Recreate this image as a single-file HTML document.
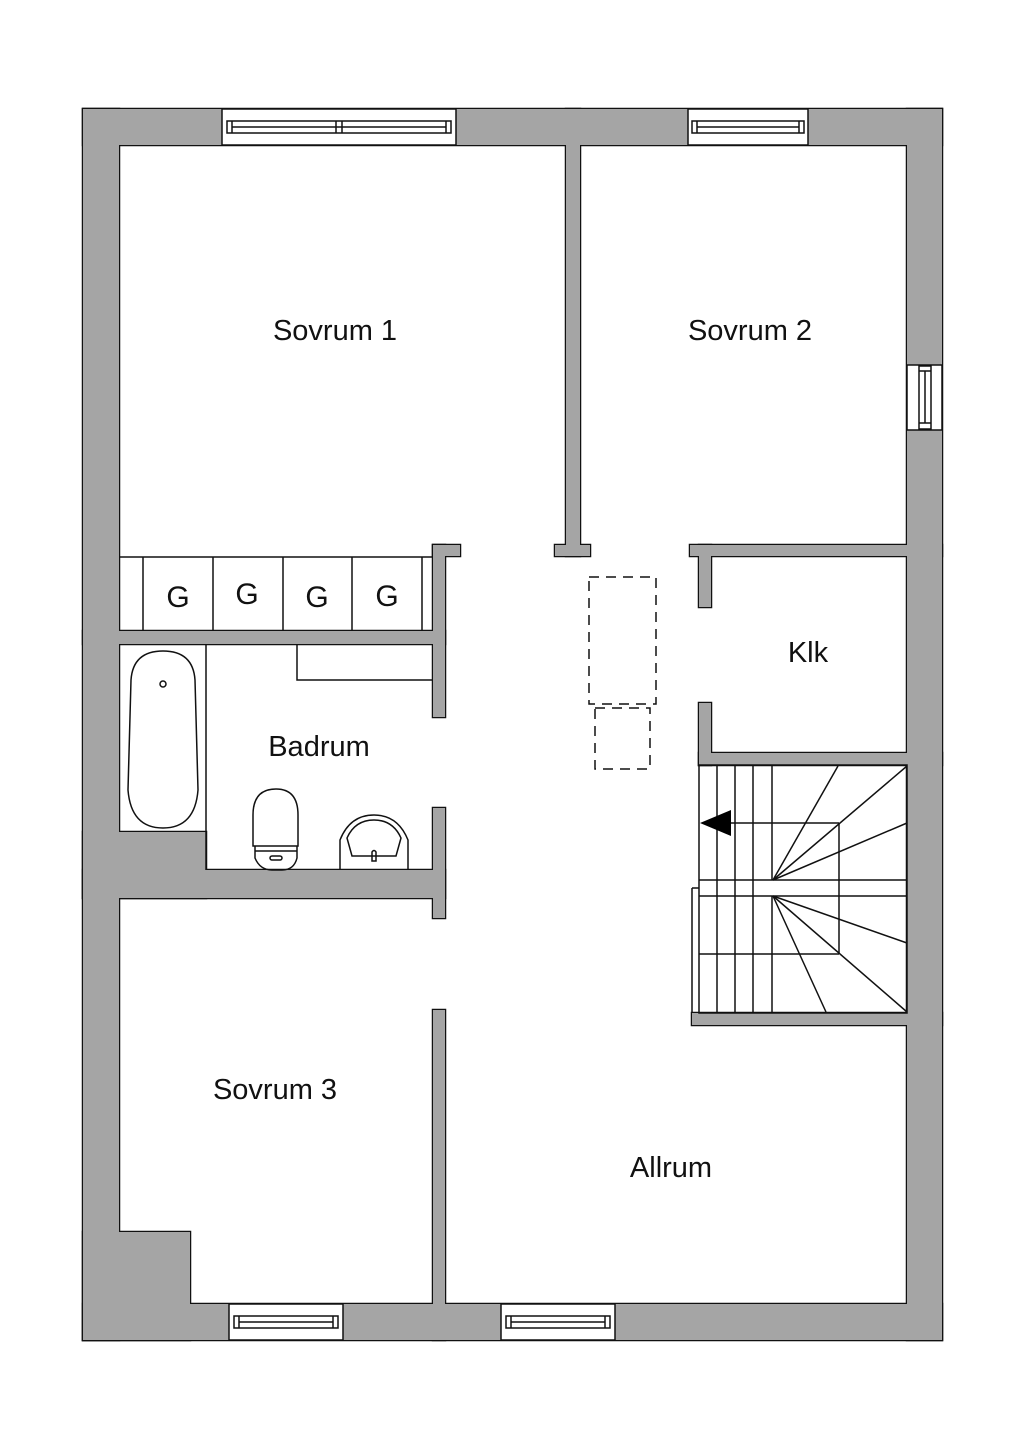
<!DOCTYPE html>
<html><head><meta charset="utf-8"><style>
html,body{margin:0;padding:0;background:#fff;}
svg{display:block;}
text{font-family:"Liberation Sans",sans-serif;fill:#111;}
</style></head><body>
<svg width="1024" height="1448" viewBox="0 0 1024 1448" xmlns="http://www.w3.org/2000/svg">
<rect x="0" y="0" width="1024" height="1448" fill="#fff"/>
<rect x="119" y="145" width="788" height="1159" fill="#fff"/>
<g id="walls">
<rect x="83" y="109" width="859" height="36"/>
<rect x="83" y="1304" width="859" height="36"/>
<rect x="83" y="109" width="36" height="1231"/>
<rect x="907" y="109" width="35" height="1231"/>
<rect x="83" y="1232" width="107" height="108"/>
<rect x="566" y="109" width="14" height="447"/>
<rect x="555" y="545" width="35" height="11"/>
<rect x="690" y="545" width="252" height="11"/>
<rect x="699" y="545" width="12" height="62"/>
<rect x="699" y="703" width="12" height="62"/>
<rect x="699" y="753" width="243" height="12"/>
<rect x="83" y="631" width="362" height="13"/>
<rect x="433" y="545" width="12" height="172"/>
<rect x="433" y="545" width="27" height="11"/>
<rect x="83" y="832" width="123" height="66"/>
<rect x="83" y="870" width="362" height="28"/>
<rect x="433" y="808" width="12" height="110"/>
<rect x="433" y="1010" width="12" height="330"/>
<rect x="692" y="1013" width="250" height="12"/>
</g>
<use href="#walls" fill="#a5a5a5" stroke="#111" stroke-width="2.5"/>
<use href="#walls" fill="#a5a5a5" stroke="none"/>

<g fill="#fff" stroke="#111" stroke-width="1.5">
<rect x="222" y="109" width="234" height="36"/>
<rect x="227" y="121" width="224" height="12"/>
<line x1="232" y1="121" x2="232" y2="133"/><line x1="336" y1="121" x2="336" y2="133"/><line x1="342" y1="121" x2="342" y2="133"/><line x1="446" y1="121" x2="446" y2="133"/>
<line x1="232" y1="127" x2="446" y2="127"/>
<rect x="688" y="109" width="120" height="36"/>
<rect x="692" y="121" width="112" height="12"/>
<line x1="697" y1="121" x2="697" y2="133"/><line x1="799" y1="121" x2="799" y2="133"/>
<line x1="697" y1="127" x2="799" y2="127"/>
<rect x="907" y="365" width="35" height="65"/>
<rect x="919" y="366" width="12" height="63"/>
<line x1="919" y1="371" x2="931" y2="371"/><line x1="919" y1="423" x2="931" y2="423"/>
<line x1="925" y1="371" x2="925" y2="423"/>
<rect x="229" y="1304" width="114" height="36"/>
<rect x="234" y="1316" width="104" height="12"/>
<line x1="239" y1="1316" x2="239" y2="1328"/><line x1="333" y1="1316" x2="333" y2="1328"/>
<line x1="239" y1="1322" x2="333" y2="1322"/>
<rect x="501" y="1304" width="114" height="36"/>
<rect x="506" y="1316" width="104" height="12"/>
<line x1="511" y1="1316" x2="511" y2="1328"/><line x1="605" y1="1316" x2="605" y2="1328"/>
<line x1="511" y1="1322" x2="605" y2="1322"/>
</g>

<g fill="none" stroke="#111" stroke-width="1.5">
<line x1="119" y1="557" x2="433" y2="557"/>
<line x1="143" y1="557" x2="143" y2="631"/><line x1="213" y1="557" x2="213" y2="631"/><line x1="283" y1="557" x2="283" y2="631"/><line x1="352" y1="557" x2="352" y2="631"/><line x1="422" y1="557" x2="422" y2="631"/>
<line x1="206" y1="644" x2="206" y2="870"/>
<path d="M131,680 Q133,651 163,651 Q193,651 195,680 L198,790 Q195,828 163,828 Q131,828 128,790 Z"/>
<circle cx="163" cy="684" r="3"/>
<path d="M297,644 L297,680 L433,680"/>
<path d="M253,846 L253,815 Q253,789 276,789 Q298,789 298,815 L298,846 Z"/>
<path d="M255,846 L255,858 Q260,870 272,870 L282,870 Q294,870 297,858 L297,846"/>
<line x1="255" y1="851" x2="297" y2="851"/>
<rect x="270" y="856" width="12" height="4" rx="2"/>
<path d="M340,870 L340,840 Q350,815 374,815 Q398,815 408,840 L408,870"/>
<path d="M347,838 Q355,820 374,820 Q393,820 401,838 L396,856 L352,856 Z"/>
<path d="M372,861 L372,852 Q374,849 376,852 L376,861 Z"/>
<rect x="589" y="577" width="67" height="127" stroke-dasharray="10,7"/>
<rect x="595" y="708" width="55" height="61" stroke-dasharray="10,7"/>
<rect x="699" y="765" width="208" height="248"/>
<line x1="692" y1="888" x2="699" y2="888"/><line x1="692" y1="888" x2="692" y2="1013"/>
<line x1="717" y1="765" x2="717" y2="1013"/><line x1="735" y1="765" x2="735" y2="1013"/><line x1="753" y1="765" x2="753" y2="1013"/>
<line x1="772" y1="765" x2="772" y2="880"/><line x1="772" y1="896" x2="772" y2="1013"/>
<line x1="717" y1="823" x2="839" y2="823"/><line x1="839" y1="823" x2="839" y2="954"/>
<line x1="699" y1="954" x2="839" y2="954"/>
<line x1="699" y1="880" x2="907" y2="880"/><line x1="699" y1="896" x2="907" y2="896"/>
<line x1="773" y1="880" x2="838" y2="766"/><line x1="773" y1="880" x2="907" y2="766"/><line x1="773" y1="880" x2="907" y2="823"/>
<line x1="773" y1="896" x2="907" y2="943"/><line x1="773" y1="896" x2="907" y2="1012"/><line x1="773" y1="896" x2="826" y2="1012"/>
</g>
<polygon points="700,823 731,810 731,836" fill="#000"/>

<g font-size="29">
<text x="335" y="340" text-anchor="middle">Sovrum 1</text>
<text x="750" y="340" text-anchor="middle">Sovrum 2</text>
<text x="808" y="662" text-anchor="middle">Klk</text>
<text x="319" y="756" text-anchor="middle">Badrum</text>
<text x="275" y="1099" text-anchor="middle">Sovrum 3</text>
<text x="671" y="1177" text-anchor="middle">Allrum</text>
</g>
<g font-size="30" text-anchor="middle">
<text x="178" y="607">G</text>
<text x="247" y="604">G</text>
<text x="317" y="607">G</text>
<text x="387" y="606">G</text>
</g>
</svg>
</body></html>
